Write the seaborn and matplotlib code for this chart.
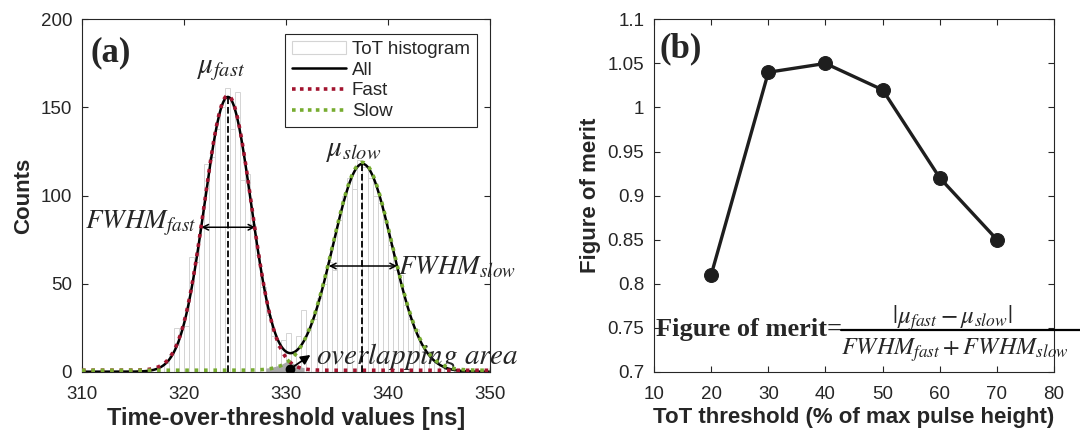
import numpy as np
import pandas as pd
import matplotlib
matplotlib.use('Agg')
import matplotlib.pyplot as plt
import seaborn as sns
from matplotlib.patches import Patch
from matplotlib.lines import Line2D
from matplotlib.ticker import FuncFormatter

# ---- panel (a): ToT histogram, 0.5 ns bins starting at 318 ns
hist_start = 318.0
hist_bin = 0.5
tot_counts = [5, 10, 25, 24, 26, 65, 62, 82, 118, 122,
              138, 150, 161, 138, 159, 109, 112, 84, 66, 48,
              32, 20, 14, 18, 22, 12, 20, 35, 24, 30,
              42, 50, 62, 58, 86, 100, 110, 104, 120, 116,
              110, 100, 96, 85, 72, 58, 55, 38, 30, 24,
              15, 12, 7, 5, 3, 2, 1, 1]

# gaussian fit parameters
fast_amp, fast_mu, fast_sigma = 156, 324.3, 2.3
slow_amp, slow_mu, slow_sigma = 118, 337.5, 2.9
fwhm_fast_ends = (321.7, 327.0)
fwhm_slow_ends = (334.2, 340.9)

# ---- panel (b): figure of merit vs threshold
tot_threshold = [20, 30, 40, 50, 60, 70]
figure_of_merit = [0.81, 1.04, 1.05, 1.02, 0.92, 0.85]

sns.set_style('ticks')
plt.rcParams['font.family'] = ['Liberation Sans', 'DejaVu Sans']
plt.rcParams['mathtext.fontset'] = 'stix'
plt.rcParams['axes.edgecolor'] = '#262626'
plt.rcParams['axes.linewidth'] = 0.8

red = '#A2142F'
green = '#77AC30'
dark = '#262626'

fig = plt.figure(figsize=(10.8, 4.36), dpi=100)
ax1 = fig.add_axes([0.0759, 0.1475, 0.3778, 0.808])
ax2 = fig.add_axes([0.6056, 0.1475, 0.3704, 0.808])

n_bins = len(tot_counts)
hist_df = pd.DataFrame({
    'tot': hist_start + hist_bin * (np.arange(n_bins) + 0.5),
    'count': tot_counts,
})
sns.histplot(data=hist_df, x='tot', weights='count', binwidth=hist_bin,
             binrange=(hist_start, hist_start + hist_bin * n_bins), ax=ax1,
             color='white', edgecolor='#d4d4d4', linewidth=0.7, alpha=1)

x = np.linspace(310, 350, 1601)
fast = fast_amp * np.exp(-(x - fast_mu) ** 2 / (2 * fast_sigma ** 2))
slow = slow_amp * np.exp(-(x - slow_mu) ** 2 / (2 * slow_sigma ** 2))
total = fast + slow

overlap = (x > 328.0) & (x < 331.8)
ax1.fill_between(x[overlap], 0, np.minimum(fast, slow)[overlap] + 1.5,
                 color='#a8a8a8', lw=0, zorder=2)

sns.lineplot(x=x, y=total, ax=ax1, color='black', lw=1.8, zorder=3)
sns.lineplot(x=x, y=fast + 0.8, ax=ax1, color=red, lw=2.6, linestyle=(0, (1, 1.6)), zorder=4)
sns.lineplot(x=x, y=slow + 0.8, ax=ax1, color=green, lw=2.6, linestyle=(0, (1, 1.6)), zorder=4)

ax1.plot([fast_mu, fast_mu], [0, fast_amp], color='black', ls='--', lw=1.3, zorder=5)
ax1.plot([slow_mu, slow_mu], [0, slow_amp], color='black', ls='--', lw=1.3, zorder=5)

ax1.annotate('', xy=(fwhm_fast_ends[0], 82), xytext=(fwhm_fast_ends[1], 82),
             arrowprops=dict(arrowstyle='<->', lw=1.1, color='black', shrinkA=0, shrinkB=0))
ax1.annotate('', xy=(fwhm_slow_ends[0], 60), xytext=(fwhm_slow_ends[1], 60),
             arrowprops=dict(arrowstyle='<->', lw=1.1, color='black', shrinkA=0, shrinkB=0))

ax1.plot([330.4], [1.5], 'o', color='black', ms=6, zorder=6)
ax1.annotate('', xy=(332.4, 9.5), xytext=(330.4, 1.5),
             arrowprops=dict(arrowstyle='-|>', lw=1.3, color='black', mutation_scale=14,
                             shrinkA=0, shrinkB=0), zorder=6)

ax1.text(310.8, 181, '(a)', family='Liberation Serif', fontweight='bold', fontsize=25,
         ha='left', va='center')
ax1.text(323.6, 172, r'$\mu_{fast}$', fontsize=21, ha='center', va='center')
ax1.text(336.6, 126, r'$\mu_{slow}$', fontsize=21, ha='center', va='center')
ax1.text(321.2, 84, r'$FWHM_{fast}$', fontsize=19.5, ha='right', va='center')
ax1.text(341.0, 59, r'$FWHM_{slow}$', fontsize=19.5, ha='left', va='center')
ax1.text(332.9, 8.5, r'$overlapping\ area$', fontsize=21, ha='left', va='center',
         clip_on=False)

ax1.set_xlim(310, 350)
ax1.set_ylim(0, 200)
ax1.set_xticks([310, 320, 330, 340, 350])
ax1.set_yticks([0, 50, 100, 150, 200])
ax1.set_xlabel('Time-over-threshold values [ns]', fontsize=17, fontweight='bold', color=dark,
               labelpad=3)
ax1.set_ylabel('Counts', fontsize=16, fontweight='bold', color=dark, labelpad=5)

handles = [Patch(facecolor='white', edgecolor='#d4d4d4', lw=0.8),
           Line2D([], [], color='black', lw=1.8),
           Line2D([], [], color=red, lw=2.6, linestyle=(0, (1, 1.2))),
           Line2D([], [], color=green, lw=2.6, linestyle=(0, (1, 1.2)))]
leg = ax1.legend(handles, ['ToT histogram', 'All', 'Fast', 'Slow'], loc='upper right',
                 bbox_to_anchor=(0.99, 0.985), fontsize=13.5, frameon=True, fancybox=False,
                 edgecolor=dark, framealpha=1, handlelength=2.9, handletextpad=0.3,
                 borderpad=0.35, labelspacing=0.2)
leg.get_frame().set_linewidth(0.8)

# ---- panel (b)
sns.lineplot(x=tot_threshold, y=figure_of_merit, ax=ax2, color='#1e1e1e', lw=2.4,
             marker='o', markersize=10, markeredgecolor='#1e1e1e')
ax2.set_xlim(10, 80)
ax2.set_ylim(0.7, 1.1)
ax2.set_xticks(range(10, 81, 10))
ax2.set_yticks(np.arange(0.7, 1.1001, 0.05))
ax2.yaxis.set_major_formatter(FuncFormatter(lambda v, p: f'{v:g}'))
ax2.set_xlabel('ToT threshold (% of max pulse height)', fontsize=16, fontweight='bold',
               color=dark, labelpad=3)
ax2.set_ylabel('Figure of merit', fontsize=16, fontweight='bold', color=dark, labelpad=5)

ax2.text(10.9, 1.067, '(b)', family='Liberation Serif', fontweight='bold', fontsize=25,
         ha='left', va='center')
ax2.text(10.4, 0.748, 'Figure of merit=', family='Liberation Serif', fontweight='bold',
         fontsize=19, ha='left', va='center')

# fraction of the formula, laid out in figure coordinates
fig.text(0.882, 1 - 318 / 436, r'$|\mu_{fast}-\mu_{slow}|$', fontsize=18,
         ha='center', va='center')
fig.text(0.779, 1 - 350 / 436, r'$FWHM_{fast}+FWHM_{slow}$', fontsize=17.5,
         ha='left', va='center')
fig.add_artist(Line2D([0.779, 1.0], [1 - 330 / 436, 1 - 330 / 436], color='black', lw=1.6))

for ax in (ax1, ax2):
    ax.tick_params(direction='in', top=True, right=True, labelsize=13.5,
                   colors=dark, length=4, width=0.8)
    ax.tick_params(axis='x', pad=10)
    ax.tick_params(axis='y', pad=7)
    for s in ax.spines.values():
        s.set_visible(True)
        s.set_color(dark)

fig.savefig('out.png', dpi=100)
